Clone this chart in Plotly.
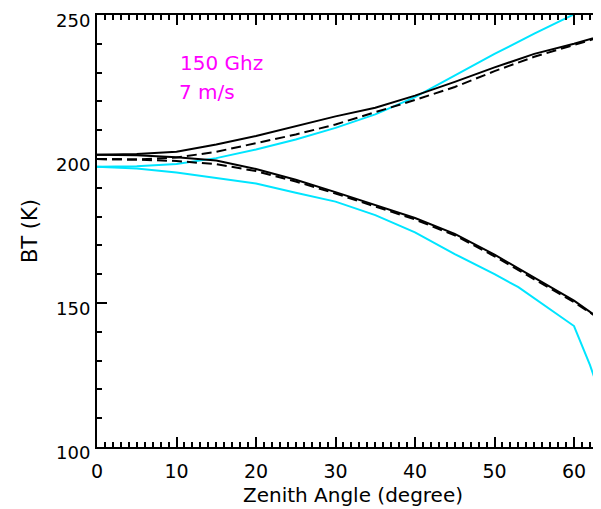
import plotly.graph_objects as go

# Zenith angle grid (degrees)
angle = [0, 5, 10, 15, 20, 25, 30, 35, 40, 45, 50, 55, 60, 63.5, 65]

# Upper branch (black solid, black dashed, cyan)
upper_solid = [201.5, 201.7, 202.5, 205.0, 208.0, 211.5, 214.8, 217.8, 222.0, 226.8, 231.8, 236.5, 240.0, 242.8, 244.0]
upper_dash = [200.0, 199.8, 200.5, 202.5, 205.5, 208.5, 212.0, 216.2, 220.5, 225.0, 230.5, 235.5, 239.5, 242.5, 243.7]
upper_cyan = [197.3, 197.5, 198.3, 200.3, 203.3, 206.8, 210.8, 215.5, 221.5, 229.0, 236.5, 243.5, 250.3, 255.0, 257.0]

# Lower branch (black solid, black dashed, cyan)
lower_solid = [201.5, 201.3, 200.6, 199.5, 196.5, 192.8, 188.5, 184.0, 179.5, 174.0, 166.8, 158.8, 150.8, 144.0, 141.0]
lower_dash = [200.0, 199.8, 199.3, 198.2, 195.8, 192.2, 188.0, 183.5, 179.0, 173.5, 166.2, 158.2, 150.3, 144.0, 141.0]

angle_cyan_low = [0, 5, 10, 15, 20, 25, 30, 35, 40, 45, 50, 53, 56, 60, 62, 63.5, 65]
lower_cyan = [197.3, 196.7, 195.3, 193.5, 191.5, 188.3, 185.2, 180.5, 174.5, 167.0, 160.0, 155.5, 149.8, 142.0, 128.5, 116.5, 105.0]

label_freq = "150 Ghz"
label_wind = "7 m/s"

CYAN = "#00E5FF"
BLACK = "#000000"

fig = go.Figure()
fig.add_trace(go.Scatter(x=angle, y=upper_cyan, mode="lines",
                         line=dict(color=CYAN, width=2), showlegend=False))
fig.add_trace(go.Scatter(x=angle_cyan_low, y=lower_cyan, mode="lines",
                         line=dict(color=CYAN, width=2), showlegend=False))
fig.add_trace(go.Scatter(x=angle, y=upper_dash, mode="lines",
                         line=dict(color=BLACK, width=2, dash="10px,5px"), showlegend=False))
fig.add_trace(go.Scatter(x=angle, y=lower_dash, mode="lines",
                         line=dict(color=BLACK, width=2, dash="10px,5px"), showlegend=False))
fig.add_trace(go.Scatter(x=angle, y=upper_solid, mode="lines",
                         line=dict(color=BLACK, width=2), showlegend=False))
fig.add_trace(go.Scatter(x=angle, y=lower_solid, mode="lines",
                         line=dict(color=BLACK, width=2), showlegend=False))

fig.add_annotation(x=10.2, y=233.5, xref="x", yref="y", text=label_freq, showarrow=False,
                   xanchor="left", yanchor="middle",
                   font=dict(family="DejaVu Sans", size=20, color="#FF00FF"))
fig.add_annotation(x=10.0, y=223.2, xref="x", yref="y", text=label_wind, showarrow=False,
                   xanchor="left", yanchor="middle",
                   font=dict(family="DejaVu Sans", size=20, color="#FF00FF"))

# page body adds an 8px offset; margins are chosen so the plot frame lands
# at about x=97..601, y=15..447 in the 601x509 window
fig.update_layout(
    width=601, height=509,
    margin=dict(l=89, r=0, t=7, b=70),
    paper_bgcolor="white", plot_bgcolor="white",
    font=dict(family="DejaVu Sans", size=19, color="black"),
    xaxis=dict(
        range=[0, 64.4], tickmode="linear", tick0=0, dtick=10,
        ticks="inside", ticklen=10, tickwidth=1.5,
        tickcolor="black", showline=True, linecolor="black", linewidth=2, mirror="ticks",
        showgrid=False, zeroline=False, ticklabelstandoff=6, automargin=False,
        tickfont=dict(size=19),
        minor=dict(dtick=1, tick0=0, ticks="inside", ticklen=5, tickwidth=1.5,
                   tickcolor="black", showgrid=False),
        title=dict(text="Zenith Angle (degree)", font=dict(size=20), standoff=7),
    ),
    yaxis=dict(
        range=[100, 250], tickmode="linear", tick0=100, dtick=50,
        ticks="inside", ticklen=10, tickwidth=1.5,
        tickcolor="black", showline=True, linecolor="black", linewidth=2, mirror="ticks",
        showgrid=False, zeroline=False, ticklabelstandoff=1, automargin=False,
        ticklabeloverflow="allow", ticklabelshift=6,
        tickfont=dict(size=18),
        minor=dict(dtick=10, tick0=100, ticks="inside", ticklen=5, tickwidth=1.5,
                   tickcolor="black", showgrid=False),
        title=dict(text="BT (K)", font=dict(size=21), standoff=13),
    ),
)

fig.write_html("out.html")
